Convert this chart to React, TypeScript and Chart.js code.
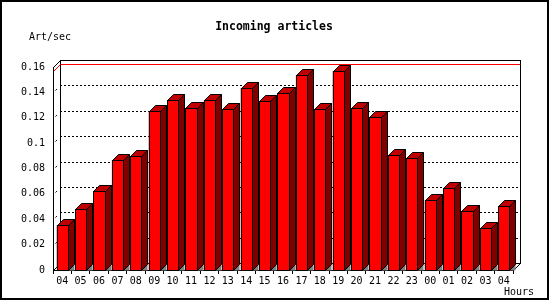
import React, { useEffect, useRef } from "react";
import { Chart, registerables } from "chart.js";

Chart.register(...registerables);

const hours = ["04","05","06","07","08","09","10","11","12","13","14","15","16","17","18","19","20","21","22","23","00","01","02","03","04"];
const articlesPerSec = [0.0352,0.0478,0.062,0.0865,0.0899,0.1253,0.134,0.1277,0.134,0.1269,0.1434,0.1332,0.1393,0.1535,0.1269,0.1568,0.1277,0.1206,0.0904,0.088,0.0549,0.0644,0.0463,0.0329,0.0502];
const yMin = 0;
const yMax = 0.16;
const yStep = 0.02;
const titleText = "Incoming articles";
const yUnitText = "Art/sec";
const xUnitText = "Hours";

const MONO = "'DejaVu Sans Mono', 'Liberation Mono', monospace";
const WALL_DEPTH = 7;
const BAR_DEPTH = 6;

const threeD = {
  id: "threeD",
  beforeDraw(chart: any) {
    const { ctx, chartArea: a, scales } = chart;
    const y = scales.y;
    const D = WALL_DEPTH;
    ctx.save();
    ctx.fillStyle = "#fff";
    ctx.fillRect(0, 0, chart.width, chart.height);
    ctx.strokeStyle = "#000";
    ctx.lineWidth = 2;
    ctx.strokeRect(1, 1, 547, 298);

    ctx.fillStyle = "#000";
    ctx.textBaseline = "middle";
    ctx.font = "bold 11.5px " + MONO;
    ctx.textAlign = "center";
    ctx.fillText(titleText, 274, 27);
    ctx.font = "10px " + MONO;
    ctx.textAlign = "left";
    ctx.fillText(yUnitText, 29, 37);
    ctx.textAlign = "right";
    ctx.fillText(xUnitText, 534, 292);

    const L = Math.round(a.left), R = Math.round(a.right), T = Math.round(a.top), B = Math.round(a.bottom);
    ctx.lineWidth = 1;
    const line = (x1: number, y1: number, x2: number, y2: number) => {
      ctx.beginPath();
      ctx.moveTo(x1, y1);
      ctx.lineTo(x2, y2);
      ctx.stroke();
    };
    // dotted grid on back wall
    ctx.strokeStyle = "#000";
    ctx.setLineDash([2, 2]);
    for (const t of y.ticks) {
      if (t.value <= yMin || t.value >= yMax - 1e-9) continue;
      const yf = Math.round(y.getPixelForValue(t.value));
      const yb = yf - D + 0.5;
      line(L + D, yb, R + D, yb);
      line(L + 2.5, yf - 2 + 0.5, L + 4.5, yf - 4 + 0.5);
    }
    ctx.setLineDash([]);
    // back wall frame
    line(L + D + 0.5, T - D, L + D + 0.5, B - D + 1);
    line(L + D, T - D + 0.5, R + D + 1, T - D + 0.5);
    line(R + D + 0.5, T - D, R + D + 0.5, B - D + 1);
    line(L + D, B - D + 0.5, R + D, B - D + 0.5);
    line(L + 0.5, T + 0.5, L + D + 0.5, T - D + 0.5);
    line(L + 0.5, B + 0.5, L + D + 0.5, B - D + 0.5);
    line(R + 0.5, B + 0.5, R + D + 0.5, B - D + 0.5);
    // red max line
    const maxV = Math.max(...(chart.data.datasets[0].data as number[]));
    const yfm = Math.round(y.getPixelForValue(maxV));
    ctx.strokeStyle = "#ff0000";
    line(L + D + 1, yfm - D + 0.5, R + D, yfm - D + 0.5);
    line(L + 0.5, yfm + 0.5, L + D + 0.5, yfm - D + 0.5);
    ctx.restore();
  },
  afterDatasetsDraw(chart: any) {
    const { ctx } = chart;
    const d = BAR_DEPTH;
    const meta = chart.getDatasetMeta(0);
    ctx.save();
    ctx.lineWidth = 1;
    ctx.strokeStyle = "#000";
    for (const el of meta.data) {
      const l = Math.round(el.x - el.width / 2);
      const r = Math.round(el.x + el.width / 2);
      const t = Math.round(el.y);
      const b = Math.round(el.base);
      const poly = (pts: number[][], fill: string, stroke: boolean) => {
        ctx.beginPath();
        ctx.moveTo(pts[0][0] + 0.5, pts[0][1] + 0.5);
        for (let i = 1; i < pts.length; i++) ctx.lineTo(pts[i][0] + 0.5, pts[i][1] + 0.5);
        ctx.closePath();
        ctx.fillStyle = fill;
        ctx.fill();
        if (stroke) ctx.stroke();
      };
      // floor shadow
      poly([[r, b], [r + d, b - d], [r + d, b]], "#808080", false);
      // side
      poly([[r, t], [r + d, t - d], [r + d, b - d], [r, b]], "#800000", true);
      // top
      poly([[l, t], [l + d, t - d], [r + d, t - d], [r, t]], "#c00000", true);
      // front
      ctx.fillStyle = "#ff0000";
      ctx.fillRect(l, t, r - l, b - t);
      ctx.strokeRect(l + 0.5, t + 0.5, r - l, b - t);
    }
    ctx.restore();
  },
};

export default function App() {
  const ref = useRef<HTMLCanvasElement | null>(null);
  useEffect(() => {
    if (!ref.current) return;
    const chart = new Chart(ref.current, {
      type: "bar",
      data: {
        labels: hours,
        datasets: [
          {
            data: articlesPerSec,
            backgroundColor: "#ff0000",
            borderWidth: 0,
            barPercentage: 0.6,
            categoryPercentage: 1,
          },
        ],
      },
      options: {
        responsive: false,
        animation: false,
        devicePixelRatio: 1,
        layout: { padding: { left: 0, right: 37, top: 67, bottom: 0 } },
        plugins: {
          legend: { display: false },
          tooltip: { enabled: false },
          title: { display: false },
        },
        scales: {
          x: {
            offset: true,
            grid: { offset: true, drawOnChartArea: false, drawTicks: true, tickLength: 4, color: "#000", lineWidth: 1 },
            border: { display: true, color: "#000" },
            ticks: {
              autoSkip: false,
              maxRotation: 0,
              minRotation: 0,
              color: "#000",
              font: { family: MONO, size: 10 },
              padding: 1,
            },
            afterFit: (s: any) => {
              s.height = 30;
            },
          },
          y: {
            min: yMin,
            max: yMax,
            ticks: {
              stepSize: yStep,
              color: "#000",
              font: { family: MONO, size: 10 },
              padding: 8,
              callback: (v: any) => String(+Number(v).toFixed(2)),
            },
            grid: { drawOnChartArea: false, drawTicks: false },
            border: { display: true, color: "#000" },
            afterFit: (s: any) => {
              s.width = 53;
            },
          },
        },
      } as any,
      plugins: [threeD],
    });
    return () => chart.destroy();
  }, []);
  return (
    <div style={{ position: "absolute", left: 0, top: 0, width: 550, height: 300 }}>
      <canvas ref={ref} width={550} height={300} />
    </div>
  );
}
